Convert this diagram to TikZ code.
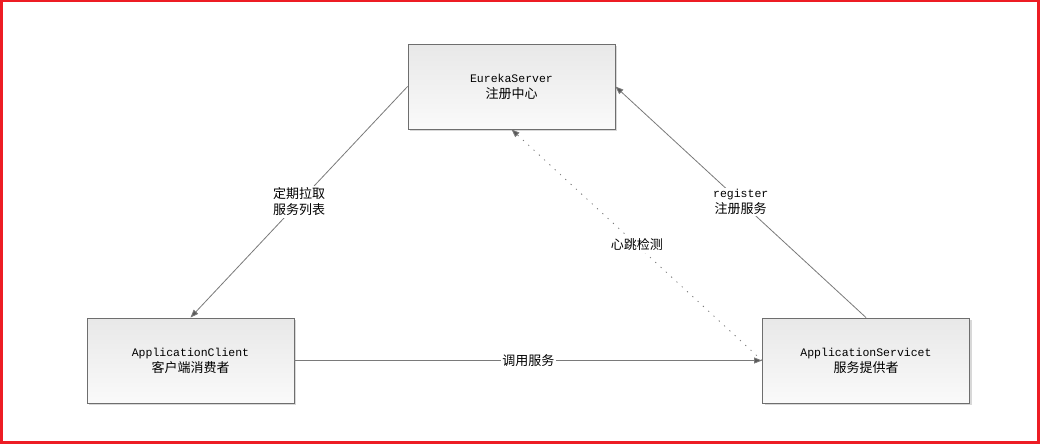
\documentclass[tikz,border=0pt]{standalone}
\usepackage{fontspec}
\newfontfamily\cjk{Noto Sans CJK SC}
\newfontfamily\mono{Liberation Mono}
\newcommand\zhtxt[1]{{\fontsize{13}{16}\selectfont\cjk #1}}
\newcommand\entxt[1]{{\fontsize{11.5}{16}\selectfont\mono #1}}
\usetikzlibrary{arrows.meta,shadows}
\definecolor{redframe}{HTML}{ED1C24}
\definecolor{boxline}{HTML}{6E6E6E}
\definecolor{conn}{HTML}{7A7A7A}
\tikzset{
  box/.style={draw=boxline, line width=0.9pt, top color=black!9, bottom color=black!2,
    minimum width=207pt, minimum height=85pt, inner sep=0pt, align=center,
    font=\fontsize{12}{16}\selectfont,
    drop shadow={shadow xshift=2pt, shadow yshift=-2pt, opacity=0.25, fill=black!60}},
  conn/.style={draw=conn, line width=0.8pt, -{Triangle[length=8pt,width=6pt,fill=black!65]}},
  lbl/.style={fill=white, inner sep=1.5pt, align=center, font=\fontsize{12}{16}\selectfont}
}
\begin{document}
\begin{tikzpicture}[x=1pt,y=-1pt]
\useasboundingbox (0,0) rectangle (1042,445);
\fill[white] (0,0) rectangle (1042,445);
\draw[redframe, line width=2.6pt] (1.3,0.9) rectangle (1038.7,442.4);

\node[box] (E) at (511.5,86.5) {\entxt{EurekaServer}\\\zhtxt{注册中心}};
\node[box] (C) at (190.5,360.5) {\entxt{ApplicationClient}\\\zhtxt{客户端消费者}};
\node[box] (S) at (866,360.5) {\entxt{ApplicationServicet}\\\zhtxt{服务提供者}};

\draw[conn] (E.west) -- node[lbl] {\zhtxt{定期拉取}\\\zhtxt{服务列表}} (C.north);
\draw[conn] (S.north) -- node[lbl] {\entxt{register}\\\zhtxt{注册服务}} (E.east);
\draw[conn, dash pattern=on 1.2pt off 6pt] (S.west) -- node[lbl] {\zhtxt{心跳检测}} (E.south);
\draw[conn] (C.east) -- node[lbl] {\zhtxt{调用服务}} (S.west);
\end{tikzpicture}
\end{document}
